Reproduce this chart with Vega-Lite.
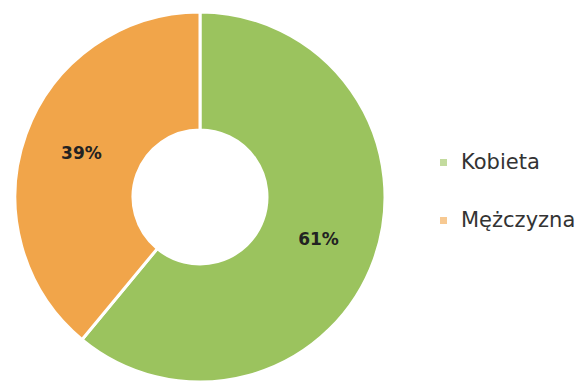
{
  "$schema": "https://vega.github.io/schema/vega-lite/v6.json",
  "width": 400,
  "height": 394,
  "padding": 0,
  "autosize": {"type": "pad"},
  "background": "white",
  "data": {"values": [
    {"plec": "Kobieta", "pct": 61, "label": "61%", "ord": 1},
    {"plec": "Mężczyzna", "pct": 39, "label": "39%", "ord": 2}
  ]},
  "encoding": {
    "theta": {"field": "pct", "type": "quantitative", "stack": true},
    "order": {"field": "ord", "type": "quantitative"}
  },
  "layer": [
    {
      "mark": {"type": "arc", "outerRadius": 185, "innerRadius": 67, "stroke": "white", "strokeWidth": 3},
      "encoding": {
        "color": {
          "field": "plec", "type": "nominal",
          "scale": {"domain": ["Kobieta", "Mężczyzna"], "range": ["#9bc35e", "#f1a54a"]},
          "legend": {
            "orient": "none", "legendX": 433, "legendY": 152, "title": null,
            "symbolType": "square", "symbolSize": 49, "symbolOpacity": 0.6, "symbolStrokeWidth": 0,
            "labelFontSize": 21, "labelFont": "DejaVu Sans", "labelColor": "#333333",
            "labelOffset": 7, "rowPadding": 36, "padding": 0
          }
        }
      }
    },
    {
      "mark": {"type": "text", "radius": 126, "fontSize": 17, "fontWeight": "bold", "font": "DejaVu Sans", "fill": "#222222"},
      "encoding": {
        "detail": {"field": "plec", "type": "nominal"},
        "text": {"field": "label", "type": "nominal"}
      }
    }
  ],
  "config": {"view": {"stroke": null}}
}
